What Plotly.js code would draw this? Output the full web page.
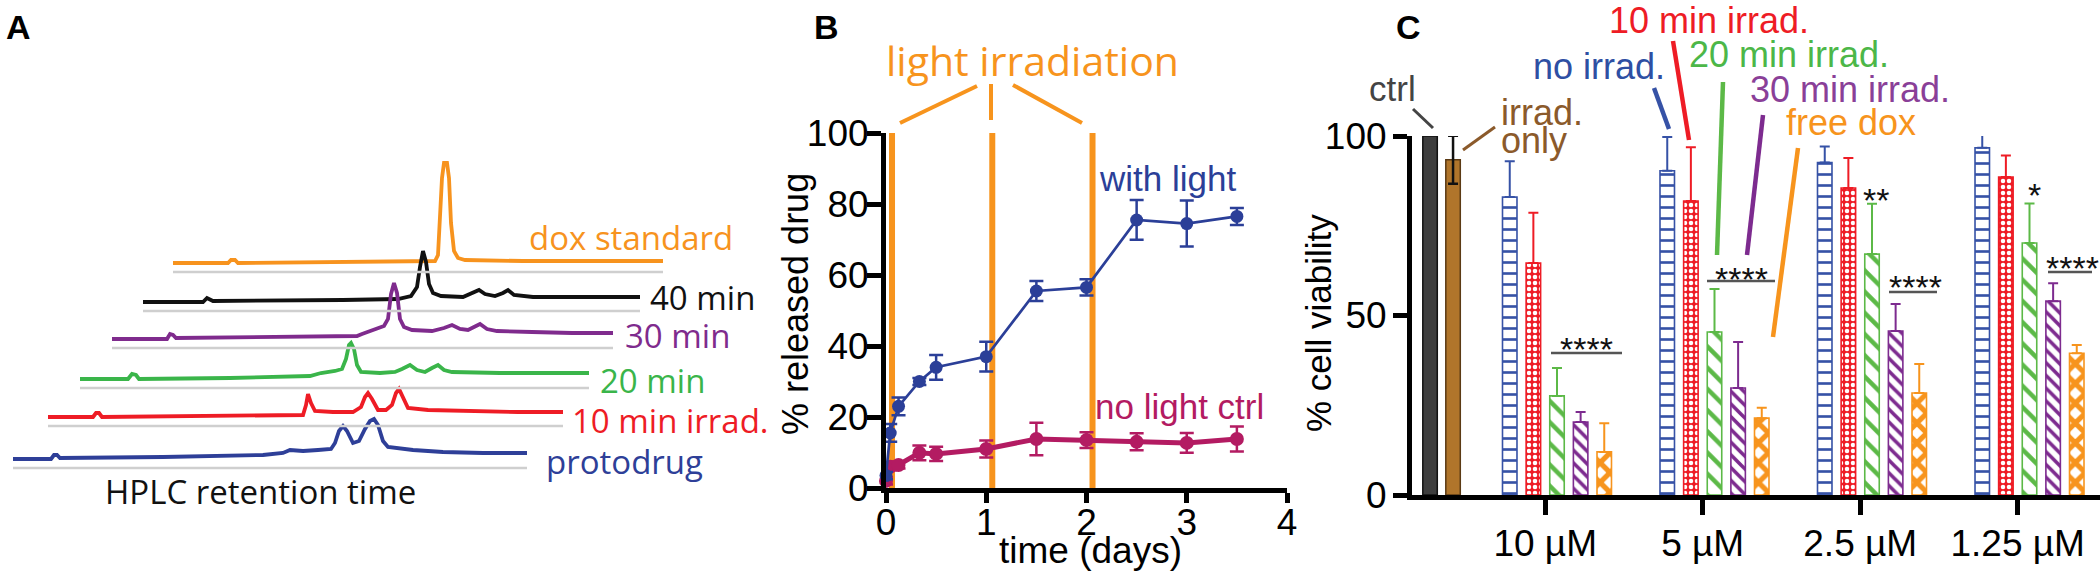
<!DOCTYPE html>
<html><head><meta charset="utf-8">
<script src="https://cdn.plot.ly/plotly-3.0.1.min.js"></script>
<style>html,body{margin:0;padding:0;background:#fff}#chart{width:2100px;height:572px}</style>
</head><body><div id="chart"></div>
<script>
const W = 2100, H = 572;
const PX = x => x / W, PY = y => 1 - y / H;
const SANS = 'Arial, "Liberation Sans", sans-serif';
const HUM = '"Open Sans", "Noto Sans", sans-serif';

// ---------- Panel A: HPLC chromatograms (retention, signal in a.u.) ----------
const hplcNames = ["protodrug", "10 min irrad.", "20 min", "30 min", "40 min", "dox standard"];
const protodrugRT  = [0,38,41,44,47,150,250,270,277,290,305,318,322,326,330,334,340,346,352,357,361,365,370,375,400,430,470,514];
const protodrugSig = [0,0,4,4,1,2,4,6,9,8,9,10,16,28,33,28,16,18,30,38,40,34,18,12,9,7,6,6];
const irr10RT  = [0,45,48,51,54,200,255,258,260,263,267,285,305,313,317,320,324,330,338,344,348,351,355,360,380,420,470,515];
const irr10Sig = [0,0,4,4,0,1,2,12,23,14,6,5,5,10,20,24,18,7,7,12,24,28,20,9,7,6,5,5];
const irr20RT  = [0,48,52,56,59,150,230,241,255,262,266,269,271,274,277,281,300,315,322,330,337,345,352,358,364,372,420,470,509];
const irr20Sig = [0,0,5,4,0,1,3,6,8,10,20,34,36,30,14,7,6,7,10,14,9,7,11,14,9,7,6,6,6];
const irr30RT  = [0,55,58,61,64,200,245,250,262,272,276,279,282,285,288,292,300,320,332,340,348,356,362,368,375,385,420,460,501];
const irr30Sig = [0,0,5,4,1,2,3,5,9,13,20,45,56,46,20,12,9,8,11,14,10,9,12,15,10,8,7,6,6];
const irr40RT  = [0,60,64,67,70,200,255,268,274,277,280,283,286,290,298,320,330,336,342,352,360,365,371,390,440,497];
const irr40Sig = [0,0,4,3,1,2,3,6,15,35,51,40,18,9,6,5,9,12,8,6,9,12,7,5,5,5];
const doxRT  = [0,55,58,62,65,200,262,265,267,269,271,274,276,278,281,285,292,350,490];
const doxSig = [0,0,3,3,0,1,2,8,40,85,100,100,85,40,12,5,3,2,2];

// ---------- Panel B: release kinetics ----------
const releaseDays   = [0, 0.042, 0.125, 0.333, 0.5, 1, 1.5, 2, 2.5, 3, 3.5];
const withLight     = [3.5, 15.5, 23, 30, 34, 37, 55.5, 56.5, 75.5, 74.5, 76.5];
const withLightErr  = [1, 2.5, 2.5, 1, 3.5, 4.2, 2.8, 2.3, 5.6, 6.5, 2.4];
const noLight       = [2, 6, 6.5, 9.9, 9.6, 11, 13.8, 13.5, 13, 12.7, 13.8];
const noLightErr    = [1, 1, 1, 2.1, 2, 2.4, 4.6, 2.2, 2.4, 2.8, 3.5];
const irradiationDays = [0.06, 1.06, 2.06];
const dayTicks = [0, 1, 2, 3, 4];
const releaseTicks = [0, 20, 40, 60, 80, 100];

// ---------- Panel C: cell viability ----------
const concLabels = ["10 µM", "5 µM", "2.5 µM", "1.25 µM"];
const treatmentNames = ["no irrad.", "10 min irrad.", "20 min irrad.", "30 min irrad.", "free dox"];
const noIrrad    = [83, 90.3, 92.6, 96.7];   const noIrradErr  = [10, 9.4, 4.5, 11];
const irrad10    = [64.6, 81.9, 85.5, 88.6]; const irrad10Err  = [14, 15, 8.4, 6];
const irrad20    = [27.6, 45.4, 67.1, 70.2]; const irrad20Err  = [7.8, 12, 14, 11];
const irrad30    = [20.3, 29.8, 45.7, 54.0]; const irrad30Err  = [2.8, 12.8, 7.5, 5];
const freeDox    = [12.0, 21.4, 28.4, 39.5]; const freeDoxErr  = [8, 2.9, 8.1, 2.3];
const ctrlViability = [100];
const irradOnlyViability = [93.4];
const irradOnlyErr = [6.7];
const viabilityTicks = [0, 50, 100];

// ---------- styling / placement ----------
const cA = {orange:'#f7931e', black:'#111111', purple:'#7f2b8d', green:'#3ab54a', red:'#ee1c25', blue:'#2e3f98'};
const placeA = [
  {rt:protodrugRT, s:protodrugSig, x0:13,  b:459, c:cA.blue,   lx:544, ly:461},
  {rt:irr10RT,     s:irr10Sig,     x0:48,  b:417, c:cA.red,    lx:570, ly:420},
  {rt:irr20RT,     s:irr20Sig,     x0:80,  b:379, c:cA.green,  lx:598, ly:380},
  {rt:irr30RT,     s:irr30Sig,     x0:112, b:339, c:cA.purple, lx:623, ly:335},
  {rt:irr40RT,     s:irr40Sig,     x0:143, b:302, c:cA.black,  lx:648, ly:297},
  {rt:doxRT,       s:doxSig,       x0:173, b:263, c:cA.orange, lx:527, ly:238}
];

const traces = [];
const shapes = [];
const annotations = [];
const line = (x0,y0,x1,y1,color,width) => ({type:'line', xref:'paper', yref:'paper', x0:PX(x0), y0:PY(y0), x1:PX(x1), y1:PY(y1), line:{color, width}});
const ann = (text, x, y, font, extra) => Object.assign({text, x:PX(x), y:PY(y), xref:'paper', yref:'paper', showarrow:false, xanchor:'left', yanchor:'middle', font}, extra || {});

// Panel A
placeA.forEach(p => {
  const len = p.rt[p.rt.length - 1];
  shapes.push(line(p.x0, p.b + 9, p.x0 + len, p.b + 9, '#cfcfcf', 2.5));
});
for (let i = placeA.length - 1; i >= 0; i--) {
  const p = placeA[i];
  traces.push({type:'scatter', mode:'lines', xaxis:'x3', yaxis:'y3', name:hplcNames[i],
    x:p.rt.map(t => p.x0 + t), y:p.s.map(v => p.b - v),
    line:{color:p.c, width:3.8}, hoverinfo:'skip'});
  annotations.push(ann(hplcNames[i], p.lx, p.ly, {family:HUM, size:33, color:p.c}));
}
annotations.push(ann('HPLC retention time', 103, 491, {family:HUM, size:33, color:'#111'}));
annotations.push(ann('<b>A</b>', 4, 27, {family:SANS, size:34, color:'#000'}));

// Panel B
const blue = '#2b3f98', magenta = '#b31b62', orange = '#f7941d';
irradiationDays.forEach(d => shapes.push({type:'line', xref:'x', yref:'y', x0:d, x1:d, y0:0, y1:101.5, layer:'below', line:{color:orange, width:6}}));
traces.push({type:'scatter', mode:'lines+markers', xaxis:'x', yaxis:'y', name:'no light ctrl',
  x:releaseDays, y:noLight, cliponaxis:false,
  line:{color:magenta, width:5}, marker:{color:magenta, size:14},
  error_y:{type:'data', array:noLightErr, color:magenta, thickness:2.5, width:7}});
traces.push({type:'scatter', mode:'lines+markers', xaxis:'x', yaxis:'y', name:'with light',
  x:releaseDays, y:withLight, cliponaxis:false,
  line:{color:blue, width:2.7}, marker:{color:blue, size:13},
  error_y:{type:'data', array:withLightErr, color:blue, thickness:2.5, width:7}});
annotations.push(ann('<b>B</b>', 812, 27, {family:SANS, size:34, color:'#000'}));
annotations.push(ann('light irradiation', 884, 60, {family:HUM, size:41, color:orange}));
shapes.push(line(900,123,977,86,orange,4));
shapes.push(line(991,84,991,120,orange,4));
shapes.push(line(1013,85,1082,123,orange,4));
annotations.push(ann('with light', 1097, 178, {family:SANS, size:35, color:blue}));
annotations.push(ann('no light ctrl', 1093, 406, {family:SANS, size:35, color:magenta}));
annotations.push(ann('% released drug', 795, 304, {family:SANS, size:36, color:'#000'}, {textangle:-90, xanchor:'center'}));
annotations.push(ann('time (days)', 1090, 550, {family:SANS, size:37, color:'#000'}, {xanchor:'center'}));

// Panel C
const groupPos = concLabels.map((_, i) => i);
const slot = 0.15, barW = 0.092;
const cC = ['#3652a6', '#ee1c25', '#5cb947', '#7d2b8f', '#f7941d'];
const pats = [
  {shape:'-', size:11, solidity:0.24, fgcolor:'#3652a6', bgcolor:'#ffffff'},
  {shape:'.', size:6, solidity:0.45, fgcolor:'#ffffff', bgcolor:'#ee1c25'},
  {shape:'\\', size:15, solidity:0.3, fgcolor:'#5cb947', bgcolor:'#ffffff'},
  {shape:'\\', size:9, solidity:0.4, fgcolor:'#7d2b8f', bgcolor:'#ffffff'},
  {shape:'x', size:14, solidity:0.6, fgcolor:'#f7941d', bgcolor:'#ffffff'}
];
const vals = [noIrrad, irrad10, irrad20, irrad30, freeDox];
const errs = [noIrradErr, irrad10Err, irrad20Err, irrad30Err, freeDoxErr];
vals.forEach((v, k) => {
  traces.push({type:'bar', xaxis:'x2', yaxis:'y2', name:treatmentNames[k], x:groupPos, y:v,
    width:barW, offset:(k - 2) * slot - barW / 2, cliponaxis:false,
    marker:{color:cC[k], line:{color:cC[k], width:1.6},
      pattern:Object.assign({fillmode:'replace'}, pats[k])},
    error_y:{type:'data', symmetric:false, array:errs[k], arrayminus:errs[k].map(() => 0), color:cC[k], thickness:2, width:5},
    hoverinfo:'skip'});
});
const ctrlX = -0.806, irradOnlyX = -0.66;
traces.push({type:'bar', xaxis:'x2', yaxis:'y2', name:'ctrl', x:[ctrlX], y:ctrlViability,
  width:barW, offset:-barW/2, marker:{color:'#3d3d3d', line:{color:'#111', width:1.5}}});
traces.push({type:'bar', xaxis:'x2', yaxis:'y2', name:'irrad. only', x:[irradOnlyX], y:irradOnlyViability,
  width:barW, offset:-barW/2, cliponaxis:false, marker:{color:'#b0752b', line:{color:'#5a3a14', width:1.5}},
  error_y:{type:'data', array:irradOnlyErr, color:'#111', thickness:2.5, width:5}});

annotations.push(ann('<b>C</b>', 1394, 27, {family:SANS, size:34, color:'#000'}));
annotations.push(ann('% cell viability', 1318, 323, {family:SANS, size:35, color:'#000'}, {textangle:-90, xanchor:'center'}));
annotations.push(ann('ctrl', 1367, 88, {family:SANS, size:35, color:'#444'}));
shapes.push(line(1413,109,1433,128,'#444',3));
annotations.push(ann('irrad.', 1499, 112, {family:SANS, size:36, color:'#8b5a2b'}));
annotations.push(ann('only', 1499, 140, {family:SANS, size:36, color:'#8b5a2b'}));
shapes.push(line(1463,150,1495,127,'#8b5a2b',3));
const calloutC = [
  {t:'no irrad.',     x:1531, y:67,  l:[1654,88,1669,129],  tc:'#2e4fa3'},
  {t:'10 min irrad.', x:1607, y:20,  l:[1673,41,1689,140],  tc:'#ee1c25'},
  {t:'20 min irrad.', x:1687, y:55,  l:[1723,82,1717,255],  tc:'#4cb748'},
  {t:'30 min irrad.', x:1748, y:89,  l:[1763,115,1747,255], tc:'#8a3f98'},
  {t:'free dox',      x:1784, y:122, l:[1798,148,1773,337], tc:'#f7941d'}
];
calloutC.forEach((c, k) => {
  annotations.push(ann(c.t, c.x, c.y, {family:SANS, size:36, color:c.tc}));
  shapes.push(line(c.l[0], c.l[1], c.l[2], c.l[3], cC[k], 4.5));
});
const sig = [
  {t:'****', x:1586, y:349, u:[1551,1622,353]},
  {t:'****', x:1741, y:279, u:[1707,1775,281]},
  {t:'**',   x:1876, y:200},
  {t:'****', x:1915, y:287, u:[1889,1937,292]},
  {t:'*',    x:2034, y:195},
  {t:'****', x:2072, y:268, u:[2048,2092,272]}
];
sig.forEach(s => {
  annotations.push(ann(s.t, s.x, s.y, {family:SANS, size:34, color:'#111'}, {xanchor:'center'}));
  if (s.u) shapes.push(line(s.u[0], s.u[2], s.u[1], s.u[2], '#555', 2.5));
});

const tickFont = {family:SANS, size:37, color:'#000'};
const axBase = {showline:true, linewidth:5, linecolor:'#000', ticks:'outside', tickwidth:5, tickcolor:'#000',
  tickfont:tickFont, showgrid:false, zeroline:false, fixedrange:true, tickmode:'array'};

const layout = {
  width:W, height:H, margin:{l:0, r:0, t:0, b:0},
  paper_bgcolor:'#ffffff', plot_bgcolor:'rgba(0,0,0,0)', showlegend:false, barmode:'overlay',
  xaxis: Object.assign({}, axBase, {domain:[886/W, 1287/W], range:[0, 4], anchor:'y', tickvals:dayTicks, ticklen:10, ticklabelstandoff:-12}),
  yaxis: Object.assign({}, axBase, {domain:[PY(488), PY(133)], range:[0, 100], anchor:'x', tickvals:releaseTicks, ticklen:14, ticklabelstandoff:-9}),
  xaxis2: Object.assign({}, axBase, {domain:[1412/W, 1], range:[-0.9206, 3.4476], anchor:'y2',
    tickvals:groupPos.map(p => p - 0.075), ticktext:concLabels, ticklen:15, ticklabelstandoff:-3}),
  yaxis2: Object.assign({}, axBase, {domain:[PY(495), PY(136)], range:[0, 100], anchor:'x2', tickvals:viabilityTicks, ticklen:14, ticklabelstandoff:-1}),
  xaxis3: {domain:[0, 700/W], range:[0, 700], anchor:'y3', visible:false, fixedrange:true},
  yaxis3: {domain:[0, 1], range:[H, 0], anchor:'x3', visible:false, fixedrange:true},
  shapes, annotations
};

Plotly.newPlot('chart', traces, layout, {displayModeBar:false, staticPlot:true});
</script></body></html>
